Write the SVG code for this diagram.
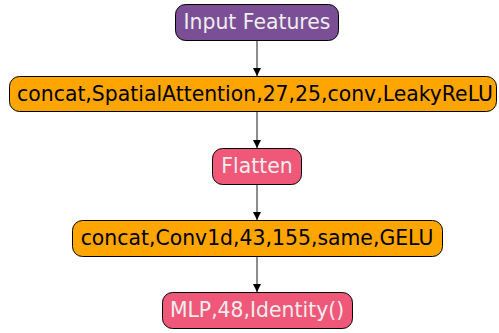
<svg xmlns="http://www.w3.org/2000/svg" width="499" height="333" viewBox="0 0 499 333">
<style>
.n rect{stroke:#000;stroke-width:1}
.t{font-family:"DejaVu Sans",sans-serif;font-size:20.4px;text-anchor:middle;dominant-baseline:central}
.l{fill:#eeeeee}
.d{fill:#000}
.e line{stroke:#666;stroke-width:1.5}
</style>
<defs>
<marker id="a" viewBox="0 0 10 10" refX="10" refY="5" markerWidth="10" markerHeight="8" orient="auto" markerUnits="userSpaceOnUse">
<path d="M0,0 L10,5 L0,10 z" fill="#000"/>
</marker>
</defs>
<g class="e">
<line x1="257" y1="40" x2="257" y2="76" marker-end="url(#a)"/>
<line x1="257" y1="111" x2="257" y2="148" marker-end="url(#a)"/>
<line x1="257" y1="184" x2="257" y2="220" marker-end="url(#a)"/>
<line x1="257" y1="256" x2="257" y2="292" marker-end="url(#a)"/>
</g>
<g id="n1" class="n"><rect x="175.5" y="4.5" width="163" height="36" rx="10" fill="#7b4f96"/><text class="t l" x="257" y="22">Input Features</text></g>
<g id="n2" class="n"><rect x="9.5" y="76.5" width="487" height="35" rx="10" fill="#ffa500"/><text class="t d" x="255" y="94">concat,SpatialAttention,27,25,conv,LeakyReLU</text></g>
<g id="n3" class="n"><rect x="212.5" y="148.5" width="89" height="36" rx="10" fill="#f0587a"/><text class="t l" x="257" y="166">Flatten</text></g>
<g id="n4" class="n"><rect x="72.5" y="220.5" width="370" height="36" rx="10" fill="#ffa500"/><text class="t d" x="257" y="238">concat,Conv1d,43,155,same,GELU</text></g>
<g id="n5" class="n"><rect x="162.5" y="292.5" width="190" height="36" rx="10" fill="#f0587a"/><text class="t l" x="257" y="310">MLP,48,Identity()</text></g>
</svg>
